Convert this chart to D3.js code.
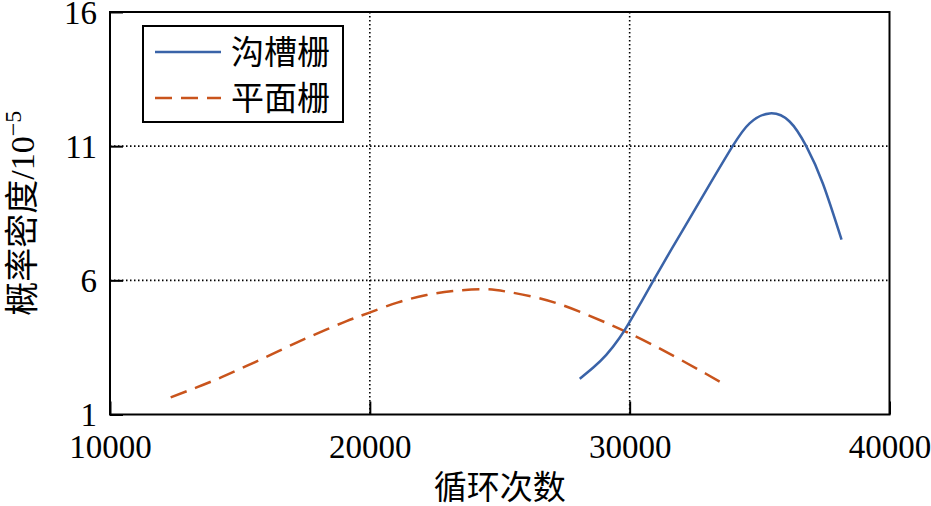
<!DOCTYPE html>
<html>
<head>
<meta charset="utf-8">
<script src="https://cdn.jsdelivr.net/npm/d3@7"></script>
<style>
html,body{margin:0;padding:0;background:#fff;}
svg{display:block;}
</style>
</head>
<body>
<svg id="chart" width="931" height="506"></svg>
<script>
// ---- data ----
const seriesNames = ["沟槽栅", "平面栅"];
const grooveX = [28077, 28600, 29100, 29600, 30000, 30450, 30950, 31500, 32050, 32950, 33950, 34615, 35385, 36154, 36796, 37435, 38154];
const grooveY = [2.33, 2.75, 3.22, 3.84, 4.45, 5.20, 6.05, 6.98, 7.88, 9.36, 10.98, 11.85, 12.22, 11.92, 11.0, 9.61, 7.52];
const planarX = [12335, 13335, 14296, 15258, 16219, 17181, 18142, 19104, 19962, 21088, 22181, 23204, 24358, 25258, 26281, 27308, 28335, 29231, 29935, 30896, 31923, 32950, 33692];
const planarY = [1.64, 2.01, 2.39, 2.81, 3.24, 3.68, 4.09, 4.48, 4.79, 5.18, 5.45, 5.60, 5.67, 5.58, 5.39, 5.11, 4.73, 4.36, 4.05, 3.59, 3.06, 2.51, 2.10];
const xTicks = [10000, 20000, 30000, 40000];
const yTicks = [1, 6, 11, 16];
const xTitle = "循环次数";
const yTitle = "概率密度/10";
const yTitleSup = "−5";

// ---- layout ----
const svg = d3.select("#chart");
const L = 110, R = 889.5, T = 12, B = 414.5;
const x = d3.scaleLinear().domain([10000, 40000]).range([L, R]);
const y = d3.scaleLinear().domain([1, 16]).range([B, T]);
const serif = "'Liberation Serif','Times New Roman',serif";
const cjk = "'Noto Sans CJK SC','Noto Sans CJK JP',sans-serif";

// grid
const g = svg.append("g");
g.selectAll(".gx").data(xTicks.slice(1, -1)).join("line")
  .attr("x1", d => x(d)).attr("x2", d => x(d)).attr("y1", T).attr("y2", B)
  .attr("stroke", "#000").attr("stroke-width", 1.6).attr("stroke-dasharray", "1.5,2.5");
g.selectAll(".gy").data(yTicks.slice(1, -1)).join("line")
  .attr("y1", d => y(d)).attr("y2", d => y(d)).attr("x1", L).attr("x2", R)
  .attr("stroke", "#000").attr("stroke-width", 1.6).attr("stroke-dasharray", "1.5,2.5");

// axes
const xAxis = d3.axisBottom(x).tickValues(xTicks).tickSize(-13).tickPadding(29).tickFormat(d3.format("d"));
const yAxis = d3.axisLeft(y).tickValues(yTicks).tickSize(-13).tickPadding(13).tickFormat(d3.format("d"));
const gx = svg.append("g").attr("transform", `translate(0,${B})`).call(xAxis);
const gy = svg.append("g").attr("transform", `translate(${L},0)`).call(yAxis);
[gx, gy].forEach(a => {
  a.select(".domain").remove();
  a.selectAll(".tick line").attr("stroke", "#000").attr("stroke-width", 2);
  a.selectAll(".tick text").attr("font-family", serif).attr("font-size", 33).attr("fill", "#000");
});
gx.selectAll(".tick text").attr("dy", "0.45em");
gy.selectAll(".tick text").attr("dy", "0.34em");

// frame
svg.append("rect").attr("x", L).attr("y", T).attr("width", R - L).attr("height", B - T)
  .attr("fill", "none").attr("stroke", "#000").attr("stroke-width", 2);

// lines
const line = d3.line().x(d => x(d[0])).y(d => y(d[1])).curve(d3.curveNatural);
svg.append("path").datum(planarX.map((v, i) => [v, planarY[i]]))
  .attr("d", line).attr("fill", "none").attr("stroke", "#C9541C").attr("stroke-width", 2.5)
  .attr("stroke-dasharray", "17,9");
svg.append("path").datum(grooveX.map((v, i) => [v, grooveY[i]]))
  .attr("d", line).attr("fill", "none").attr("stroke", "#3A63A8").attr("stroke-width", 2.5);

// legend
const lg = svg.append("g");
lg.append("rect").attr("x", 143).attr("y", 26).attr("width", 200).attr("height", 96)
  .attr("fill", "#fff").attr("stroke", "#000").attr("stroke-width", 2);
const legendStyles = [{c: "#3A63A8", dash: null}, {c: "#C9541C", dash: "17,9"}];
seriesNames.forEach((n, i) => {
  const yy = 52 + i * 46;
  lg.append("line").attr("x1", 155).attr("x2", 221).attr("y1", yy).attr("y2", yy)
    .attr("stroke", legendStyles[i].c).attr("stroke-width", 2.5)
    .attr("stroke-dasharray", legendStyles[i].dash);
  lg.append("text").attr("x", 231).attr("y", yy).attr("dy", "0.36em")
    .attr("font-family", cjk).attr("font-size", 33).attr("fill", "#000").text(n);
});

// titles
svg.append("text").attr("x", (L + R) / 2).attr("y", 487).attr("dy", "0.36em")
  .attr("text-anchor", "middle").attr("font-family", cjk).attr("font-size", 33).attr("fill", "#000")
  .text(xTitle);
const yt = svg.append("text").attr("transform", `translate(22,${(T + B) / 2}) rotate(-90)`)
  .attr("text-anchor", "middle").attr("dy", "0.36em").attr("font-size", 34).attr("fill", "#000");
yt.append("tspan").attr("font-family", cjk).text(yTitle.slice(0, 4));
yt.append("tspan").attr("font-family", serif).text(yTitle.slice(4));
yt.append("tspan").attr("font-family", serif).attr("font-size", 24).attr("dy", "-0.55em").text(yTitleSup);
</script>
</body>
</html>
